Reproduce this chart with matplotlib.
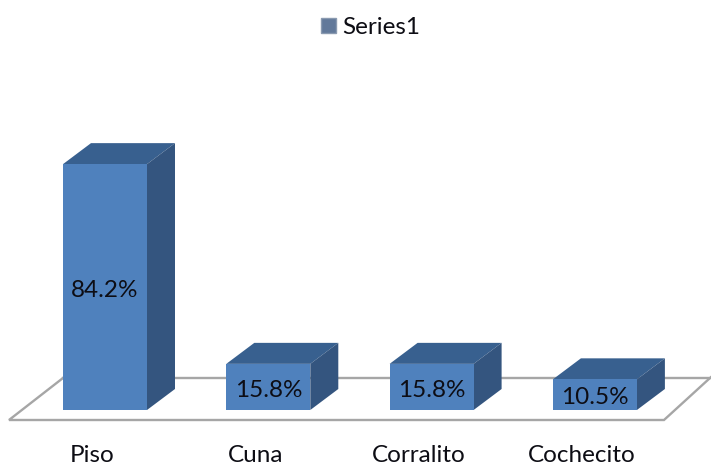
import matplotlib
matplotlib.use("Agg")
import matplotlib.pyplot as plt
from matplotlib.patches import Polygon, Patch

categories = ["Piso", "Cuna", "Corralito", "Cochecito"]
values = [84.2, 15.8, 15.8, 10.5]
labels = ["84.2%", "15.8%", "15.8%", "10.5%"]
series_name = "Series1"

PX_X = 163.3      # px per category
PX_Y = 2.92       # px per percentage point
X0, Y0 = 105, 410 # px of category 0, value 0
W, H = 711, 465

FRONT = "#4f81bd"
TOP = "#38608f"
SIDE = "#34557f"
FLOOR = "#a6a6a6"
TXT = "#0d0d14"
FS = 17.5

plt.rcParams["font.family"] = ["Lato", "DejaVu Sans"]
fig = plt.figure(figsize=(W / 100, H / 100), dpi=100)
ax = fig.add_axes([0, 0, 1, 1])
ax.set_xlim(-X0 / PX_X, (W - X0) / PX_X)
ax.set_ylim((Y0 - H) / PX_Y, Y0 / PX_Y)
ax.axis("off")

bw = 84 / PX_X
dx = 28 / PX_X
dy = 21 / PX_Y

# floor
fx = [(9 - X0) / PX_X, (664 - X0) / PX_X, (720 - X0) / PX_X]
fy_front = (Y0 - 420) / PX_Y
fy_back = (Y0 - 378) / PX_Y
bx = (63 - X0) / PX_X
ax.plot([bx, fx[0], fx[1], fx[2]],
        [fy_back, fy_front, fy_front, fy_front + (fy_back - fy_front) * 56 / 46],
        color=FLOOR, lw=1.7, zorder=1, solid_joinstyle="miter")
ax.plot([bx, fx[2]], [fy_back, fy_back], color=FLOOR, lw=1.7, zorder=1)

xs = range(len(values))
ax.bar(xs, values, width=bw, color=FRONT, zorder=3)
for x, v, lab in zip(xs, values, labels):
    l, r = x - bw / 2, x + bw / 2
    ax.add_patch(Polygon([(l, v), (r, v), (r + dx, v + dy), (l + dx, v + dy)],
                         closed=True, fc=TOP, ec="none", zorder=2))
    ax.add_patch(Polygon([(r, 0), (r + dx, dy), (r + dx, v + dy), (r, v)],
                         closed=True, fc=SIDE, ec="none", zorder=2))
    ax.text(x, v / 2 - 1.1, lab, ha="center", va="center", fontsize=FS, color=TXT, zorder=4)

for x, c in zip(xs, categories):
    ax.text(x - 13 / PX_X, (Y0 - 455) / PX_Y, c, ha="center", va="center",
            fontsize=FS, color=TXT)

leg = ax.legend(handles=[Patch(facecolor="#62799a", edgecolor="#8a9ab0", label=series_name)],
                loc="center", bbox_to_anchor=(371 / W, 1 - 28 / H), frameon=False,
                fontsize=FS, handlelength=0.58, handleheight=0.58, handletextpad=0.29,
                labelcolor=TXT, borderpad=0)
fig.savefig("out.png", dpi=100)
